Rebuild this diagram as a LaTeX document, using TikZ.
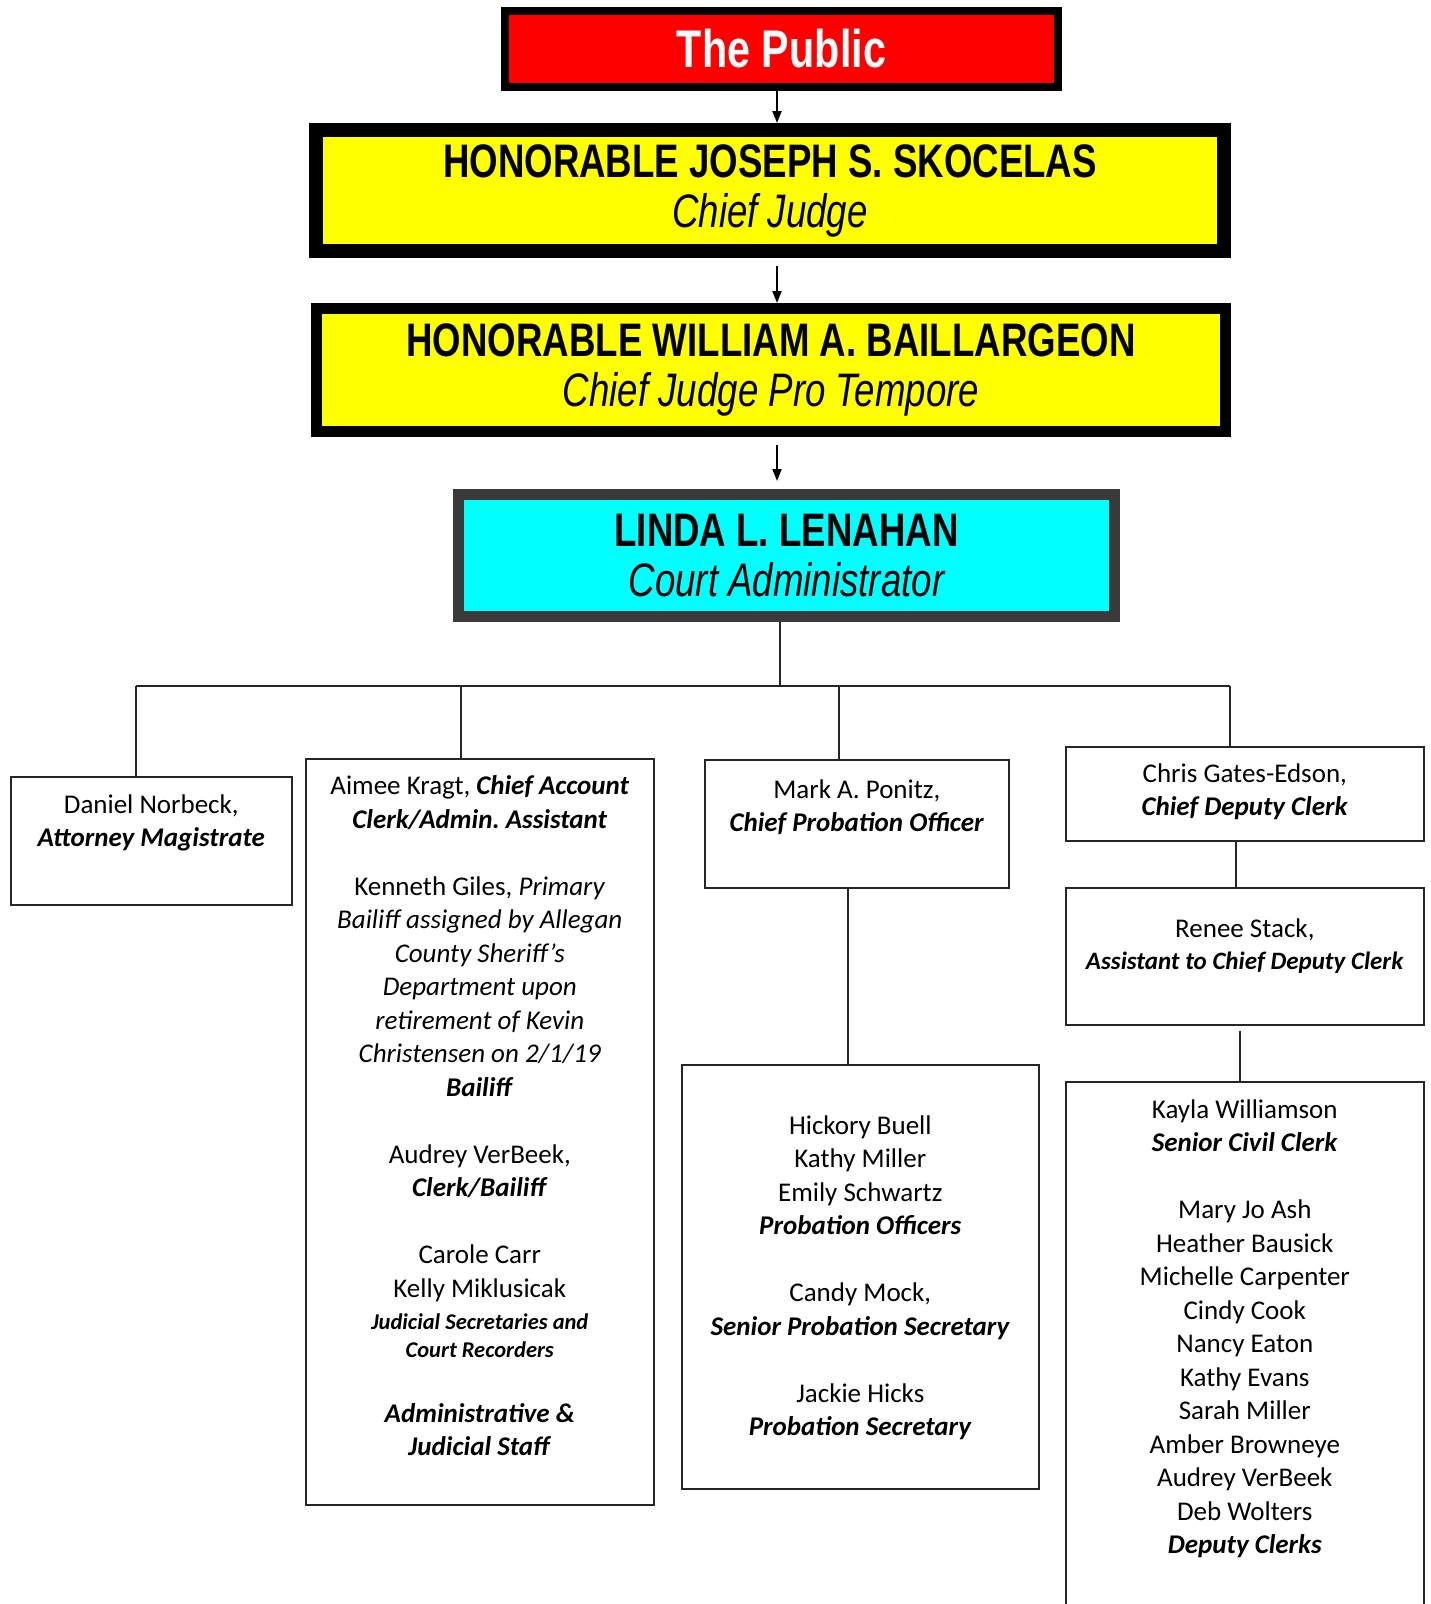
\documentclass[tikz,border=0pt]{standalone}
\usepackage{fontspec}
\setmainfont{Carlito}
\newfontfamily\headfont[FakeStretch=0.78]{Liberation Sans}
\usetikzlibrary{arrows.meta,positioning}

\definecolor{publicred}{RGB}{255,0,0}
\definecolor{judgeyellow}{RGB}{255,255,0}
\definecolor{admincyan}{RGB}{0,255,255}
\definecolor{adminrim}{RGB}{58,58,58}

\tikzset{
  headbox/.style={draw=black, inner sep=0pt, align=center,
    font=\headfont\fontsize{47}{50}\selectfont},
  staffbox/.style={draw=black!85, line width=1.6pt, anchor=north west, inner sep=0pt},
  stafftext/.style={align=center, inner sep=0pt,
    font=\fontsize{27}{33.5}\selectfont, execute at begin node=\strut},
  link/.style={draw=black!85, line width=1.6pt},
  tiparrow/.style={line width=2pt, -{Triangle[length=12pt,width=9pt]}},
}

\begin{document}
\begin{tikzpicture}[x=1pt,y=-1pt]
\clip (0,0) rectangle (1431,1604);
\fill[white] (0,0) rectangle (1431,1604);

\node[headbox, fill=publicred, text=white, line width=8pt, minimum width=553pt, minimum height=76pt,
  font=\headfont\fontsize{53}{56}\selectfont] (public) at (781.5,49) {\bfseries The Public};
\node[headbox, fill=judgeyellow, line width=14pt, minimum width=908pt, minimum height=121pt] (judge) at (770,190.5)
  {\bfseries HONORABLE JOSEPH S. SKOCELAS\\ \itshape Chief Judge};
\node[headbox, fill=judgeyellow, line width=11pt, minimum width=909pt, minimum height=123pt] (protem) at (771,370)
  {\bfseries HONORABLE WILLIAM A. BAILLARGEON\\ \itshape Chief Judge Pro Tempore};
\node[headbox, fill=admincyan, draw=adminrim, line width=11pt, minimum width=656pt, minimum height=122pt] (admin) at (786.5,555.5)
  {\bfseries LINDA L. LENAHAN\\ \itshape Court Administrator};

\coordinate (spine) at (777,0);
\draw[tiparrow] (public.south -| spine) -- (judge.north -| spine);
\draw[tiparrow, shorten <=8pt] (judge.south -| spine) -- (protem.north -| spine);
\draw[tiparrow, shorten <=8pt, shorten >=8pt] (protem.south -| spine) -- (admin.north -| spine);

% staff boxes
\node[staffbox, minimum width=281pt, minimum height=128pt] (norbeck) at (10,776) {};
\node[staffbox, minimum width=348pt, minimum height=746pt] (kragt) at (305,758) {};
\node[staffbox, minimum width=304pt, minimum height=128pt] (ponitz) at (704,759) {};
\node[staffbox, minimum width=357pt, minimum height=424pt] (probstaff) at (681,1064) {};
\node[staffbox, minimum width=358pt, minimum height=94pt] (gates) at (1065,746) {};
\node[staffbox, minimum width=358pt, minimum height=137pt] (stack) at (1065,887) {};
\node[staffbox, minimum width=358pt, minimum height=600pt] (clerks) at (1065,1081) {};

\node[stafftext, below=18.5pt of norbeck.north] (norbeck-t)
  {Daniel Norbeck,\\ \textbf{\textit{Attorney Magistrate}}};
\node[stafftext, below=17.5pt of kragt.north] (kragt-t)
  {Aimee Kragt, \textbf{\textit{Chief Account}}\\
   \textbf{\textit{Clerk/Admin.\ Assistant}}\\[33.5pt]
   Kenneth Giles, \textit{Primary}\\
   \textit{Bailiff assigned by Allegan}\\
   \textit{County Sheriff’s}\\
   \textit{Department upon}\\
   \textit{retirement of Kevin}\\
   \textit{Christensen on 2/1/19}\\
   \textbf{\textit{Bailiff}}\\[33.5pt]
   Audrey VerBeek,\\
   \textbf{\textit{Clerk/Bailiff}}\\[33.5pt]
   Carole Carr\\
   Kelly Miklusicak\\[-1.5pt]
   {\fontsize{22.5}{28}\selectfont\textbf{\textit{Judicial Secretaries and}}}\\[-5.5pt]
   {\fontsize{22.5}{28}\selectfont\textbf{\textit{Court Recorders}}}\\[31.5pt]
   \textbf{\textit{Administrative \&}}\\
   \textbf{\textit{Judicial Staff}}};
\node[stafftext, below=20.5pt of ponitz.north] (ponitz-t)
  {Mark A. Ponitz,\\ \textbf{\textit{Chief Probation Officer}}};
\node[stafftext, below=51.5pt of probstaff.north] (probstaff-t)
  {Hickory Buell\\ Kathy Miller\\ Emily Schwartz\\
   \textbf{\textit{Probation Officers}}\\[33.5pt]
   Candy Mock,\\ \textbf{\textit{Senior Probation Secretary}}\\[33.5pt]
   Jackie Hicks\\ \textbf{\textit{Probation Secretary}}};
\node[stafftext, below=17.5pt of gates.north] (gates-t)
  {Chris Gates-Edson,\\ \textbf{\textit{Chief Deputy Clerk}}};
\node[stafftext, below=31.5pt of stack.north] (stack-t)
  {Renee Stack,\\[-1.5pt] {\fontsize{25}{31}\selectfont\textbf{\textit{Assistant to Chief Deputy Clerk}}}};
\node[stafftext, below=18.5pt of clerks.north] (clerks-t)
  {Kayla Williamson\\ \textbf{\textit{Senior Civil Clerk}}\\[33.5pt]
   Mary Jo Ash\\ Heather Bausick\\ Michelle Carpenter\\ Cindy Cook\\ Nancy Eaton\\
   Kathy Evans\\ Sarah Miller\\ Amber Browneye\\ Audrey VerBeek\\ Deb Wolters\\
   \textbf{\textit{Deputy Clerks}}};

% tree lines
\coordinate (hub) at (780,686);
\coordinate (bus-w) at (136,686);
\coordinate (bus-k) at (461,686);
\coordinate (bus-p) at (839,686);
\coordinate (bus-e) at (1230,686);
\coordinate (prob-x) at (848,0);
\coordinate (stack-x) at (1236,0);
\coordinate (clerk-x) at (1240,0);

\draw[link] (admin.south -| hub) -- (hub);
\draw[link] (bus-w) -- (bus-e);
\draw[link] (bus-w) -- (bus-w |- norbeck.north);
\draw[link] (bus-k) -- (bus-k |- kragt.north);
\draw[link] (bus-p) -- (bus-p |- ponitz.north);
\draw[link] (bus-e) -- (bus-e |- gates.north);
\draw[link] (ponitz.south -| prob-x) -- (probstaff.north -| prob-x);
\draw[link] (gates.south -| stack-x) -- (stack.north -| stack-x);
\draw[link, shorten <=5pt] (stack.south -| clerk-x) -- (clerks.north -| clerk-x);

\end{tikzpicture}
\end{document}
